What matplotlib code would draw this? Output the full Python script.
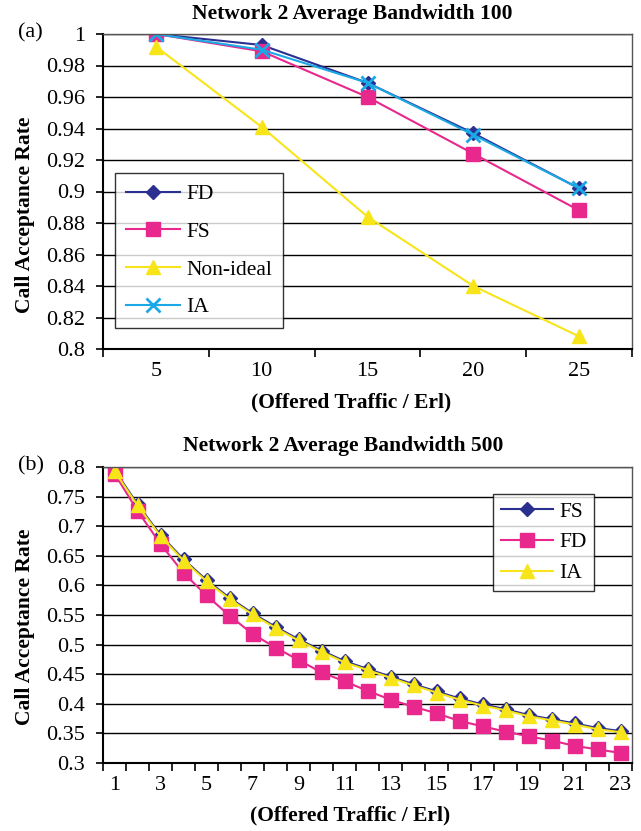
import numpy as np
import matplotlib
matplotlib.use("Agg")
import matplotlib.pyplot as plt

plt.rcParams["font.family"] = ["Liberation Serif", "DejaVu Serif"]

# ── data ─────────────────────────────────────────────────────────────────────
TRAFFIC_A = ["5", "10", "15", "20", "25"]
FD_A = [1.000, 0.993, 0.969, 0.937, 0.902]
FS_A = [1.000, 0.989, 0.960, 0.924, 0.888]
NONIDEAL_A = [0.992, 0.941, 0.884, 0.840, 0.808]
IA_A = [1.000, 0.990, 0.969, 0.936, 0.902]

TRAFFIC_B = list(range(1, 24))
IA_B = [0.793, 0.735, 0.683, 0.642, 0.607, 0.577, 0.551, 0.528, 0.507, 0.488,
        0.470, 0.457, 0.444, 0.431, 0.419, 0.407, 0.397, 0.389, 0.379, 0.372,
        0.365, 0.357, 0.352]
FS_B = [0.795, 0.737, 0.685, 0.644, 0.609, 0.579, 0.553, 0.530, 0.509, 0.490,
        0.472, 0.459, 0.446, 0.433, 0.421, 0.409, 0.399, 0.391, 0.381, 0.374,
        0.367, 0.359, 0.354]
FD_B = [0.789, 0.726, 0.670, 0.621, 0.583, 0.549, 0.518, 0.495, 0.474, 0.453,
        0.438, 0.422, 0.407, 0.395, 0.384, 0.371, 0.362, 0.353, 0.345, 0.338,
        0.329, 0.323, 0.317]

NAVY = "#2b3090"
MAGENTA = "#e8288c"
YELLOW = "#f7e51a"
CYAN = "#1aa9e6"

TICK_FS = 16
LABEL_FS = 15.5
LEG_FS = 15.5

W, H = 641, 831
fig = plt.figure(figsize=(W / 100, H / 100), dpi=100)


def px_axes(l, t, r, b):
    return fig.add_axes([l / W, 1 - b / H, (r - l) / W, (b - t) / H])


def style(ax, cats, ymin, ymax, ystep, labelled):
    n = len(cats)
    ax.set_xlim(-0.5, n - 0.5)
    ax.set_ylim(ymin, ymax)
    yt = np.round(np.arange(ymin, ymax + ystep / 2, ystep), 3)
    ax.set_yticks(yt)
    ax.set_yticklabels([f"{v:g}" for v in yt])
    ax.set_xticks(np.arange(n))
    ax.set_xticklabels([lab if i in labelled else "" for i, lab in enumerate(cats)])
    ax.set_xticks(np.arange(n + 1) - 0.5, minor=True)
    ax.tick_params(axis="x", which="major", length=0, pad=9, labelsize=TICK_FS)
    ax.tick_params(axis="x", which="minor", length=6, width=1.2, direction="out")
    ax.tick_params(axis="y", length=5, width=1.2, pad=8, labelsize=TICK_FS)
    ax.grid(axis="y", color="black", lw=1.0)
    ax.set_axisbelow(True)
    for s in ("left", "bottom"):
        ax.spines[s].set_linewidth(1.5)
    for s in ("top", "right"):
        ax.spines[s].set_color("#555555")
        ax.spines[s].set_linewidth(1.0)


def texts(title, title_xy, xlab_xy, ylab_xy, tag, tag_y):
    fig.text(title_xy[0] / W, 1 - title_xy[1] / H, title, ha="center",
             va="center", fontsize=LABEL_FS, fontweight="bold")
    fig.text(xlab_xy[0] / W, 1 - xlab_xy[1] / H, "(Offered Traffic / Erl)",
             ha="center", va="center", fontsize=LABEL_FS, fontweight="bold")
    fig.text(ylab_xy[0] / W, 1 - ylab_xy[1] / H, "Call Acceptance Rate",
             rotation=90, ha="center", va="center", fontsize=LABEL_FS,
             fontweight="bold")
    fig.text(18 / W, 1 - tag_y / H, tag, ha="left", va="center", fontsize=TICK_FS)


# ── (a) ──────────────────────────────────────────────────────────────────────
ax = px_axes(103, 34, 632, 349)
x = np.arange(len(TRAFFIC_A))
ax.plot(x, FD_A, color=NAVY, marker="D", ms=7.5, lw=1.5, label="FD")
ax.plot(x, FS_A, color=MAGENTA, marker="s", ms=9.5, lw=1.5, label="FS")
ax.plot(x, NONIDEAL_A, color=YELLOW, marker="^", ms=10.5, lw=1.5, label="Non-ideal")
ax.plot(x, IA_A, color=CYAN, marker="x", ms=9.5, mew=2, lw=1.5, label="IA")
style(ax, TRAFFIC_A, 0.8, 1.0, 0.02, range(len(TRAFFIC_A)))
leg = ax.legend(loc="lower left", bbox_to_anchor=(12 / 529, 21 / 315), fontsize=LEG_FS,
                frameon=True, fancybox=False, edgecolor="black", handlelength=2.5,
                handletextpad=0.3, borderpad=0.5, labelspacing=0.82, borderaxespad=0)
leg.get_frame().set_linewidth(1.0)
texts("Network 2 Average Bandwidth 100", (352, 14), (351, 402), (25, 215), "(a)", 33)

# ── (b) ──────────────────────────────────────────────────────────────────────
ax = px_axes(103, 467, 632, 763)
x = np.arange(len(TRAFFIC_B))
ax.plot(x, FS_B, color=NAVY, marker="D", ms=7.5, lw=1.5, label="FS")
ax.plot(x, FD_B, color=MAGENTA, marker="s", ms=9.5, lw=1.5, label="FD")
ax.plot(x, IA_B, color=YELLOW, marker="^", ms=10.5, lw=1.5, label="IA")
style(ax, [str(t) for t in TRAFFIC_B], 0.3, 0.8, 0.05, range(0, len(TRAFFIC_B), 2))
leg = ax.legend(loc="upper right", bbox_to_anchor=(1 - 38 / 529, 1 - 27 / 296),
                fontsize=LEG_FS, frameon=True, fancybox=False, edgecolor="black",
                handlelength=2.4, handletextpad=0.3, borderpad=0.35,
                labelspacing=0.5, borderaxespad=0)
leg.get_frame().set_linewidth(1.0)
texts("Network 2 Average Bandwidth 500", (343, 446), (350, 815), (25, 627), "(b)", 466)

fig.savefig("out.png", dpi=100, facecolor="white")
